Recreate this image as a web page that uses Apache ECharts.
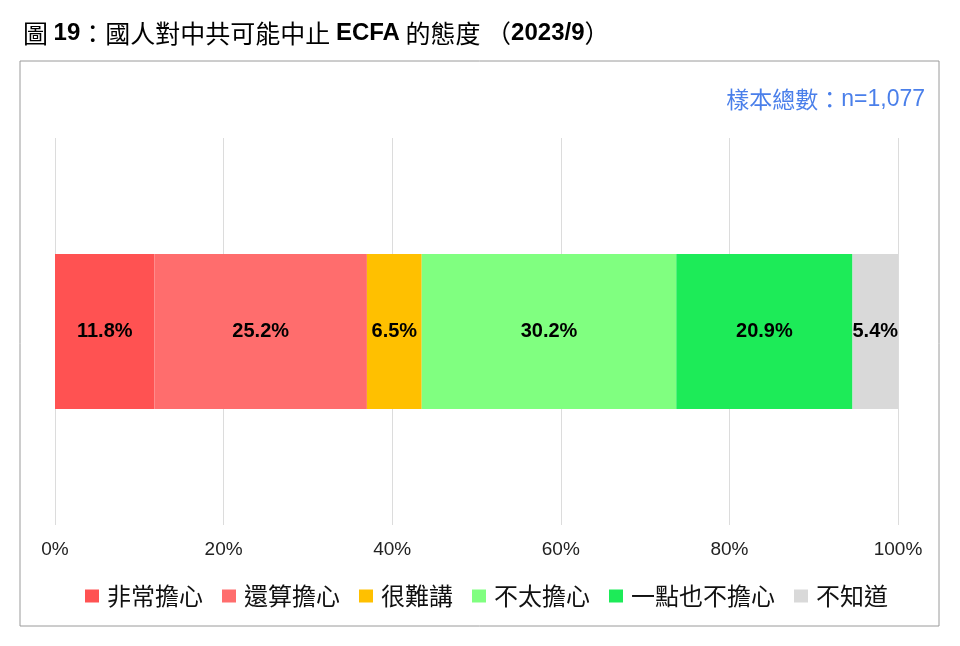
<!DOCTYPE html>
<html><head><meta charset="utf-8">
<script src="https://cdn.jsdelivr.net/npm/echarts@6/dist/echarts.min.js"></script>
<style>html,body{margin:0;padding:0;background:#fff}#c{width:960px;height:646px}</style>
</head><body><div id="c"></div>
<script>
const categories = ['2023/9'];
const seriesNames = ['非常擔心','還算擔心','很難講','不太擔心','一點也不擔心','不知道'];
const seriesValues = [[11.8],[25.2],[6.5],[30.2],[20.9],[5.4]];
const colors = ['#FF5252','#FF6D6D','#FFC000','#80FF80','#1DEB58','#D9D9D9'];
const xTicks = [0,20,40,60,80,100];
const FONT = '"Liberation Sans", "Noto Sans CJK TC", sans-serif';
const CJK = '"Noto Sans CJK TC", "Liberation Sans", sans-serif';

const chart = echarts.init(document.getElementById('c'));
chart.setOption({
  backgroundColor:'#fff',
  animation:false,
  textStyle:{fontFamily:FONT},
  title:{
    left:18, top:11,
    text:'{r|圖 }{b|19}{r|：國人對中共可能中止 }{b|ECFA}{r| 的態度 （}{b|2023/9}{r|）}',
    textStyle:{rich:{
      r:{fontSize:25,fontFamily:CJK,color:'#000',fontWeight:'normal',lineHeight:34},
      b:{fontSize:24,fontFamily:FONT,color:'#000',fontWeight:'bold',lineHeight:34}
    }}
  },
  graphic:[
    {type:'rect',shape:{x:20,y:61,width:919,height:565},style:{fill:'none',stroke:'#9a9a9a',lineWidth:1}},
    {type:'text',right:35,top:88,style:{rich:{
        c:{fontSize:23,fontFamily:CJK,fill:'#4A7FEA'},
        l:{fontSize:23,fontFamily:FONT,fill:'#4A7FEA'}
      },text:'{c|樣本總數：}{l|n=1,077}'}}
  ],
  legend:{
    top:579, left:80,
    itemWidth:14, itemHeight:13, itemGap:19,
    icon:'rect',
    textStyle:{fontSize:24,color:'#111',fontFamily:CJK,padding:[0,0,0,3]},
    data:seriesNames
  },
  grid:{left:55,right:62,top:138,bottom:121},
  xAxis:{
    type:'value',min:0,max:100,interval:20,
    axisLabel:{formatter:v=>xTicks.includes(v)?v+'%':'',fontSize:19,color:'#222',margin:15,fontFamily:FONT},
    splitLine:{lineStyle:{color:'#dcdcdc',width:1}},
    axisLine:{show:false},axisTick:{show:false}
  },
  yAxis:{type:'category',data:categories,show:false},
  series:seriesNames.map((n,i)=>({
    name:n,type:'bar',stack:'t',data:seriesValues[i],barWidth:155,
    itemStyle:{color:colors[i]},
    label:{show:true,position:'inside',formatter:p=>p.value.toFixed(1)+'%',fontSize:20,fontWeight:'bold',color:'#000',fontFamily:FONT}
  })),
  color:colors
});
</script></body></html>
